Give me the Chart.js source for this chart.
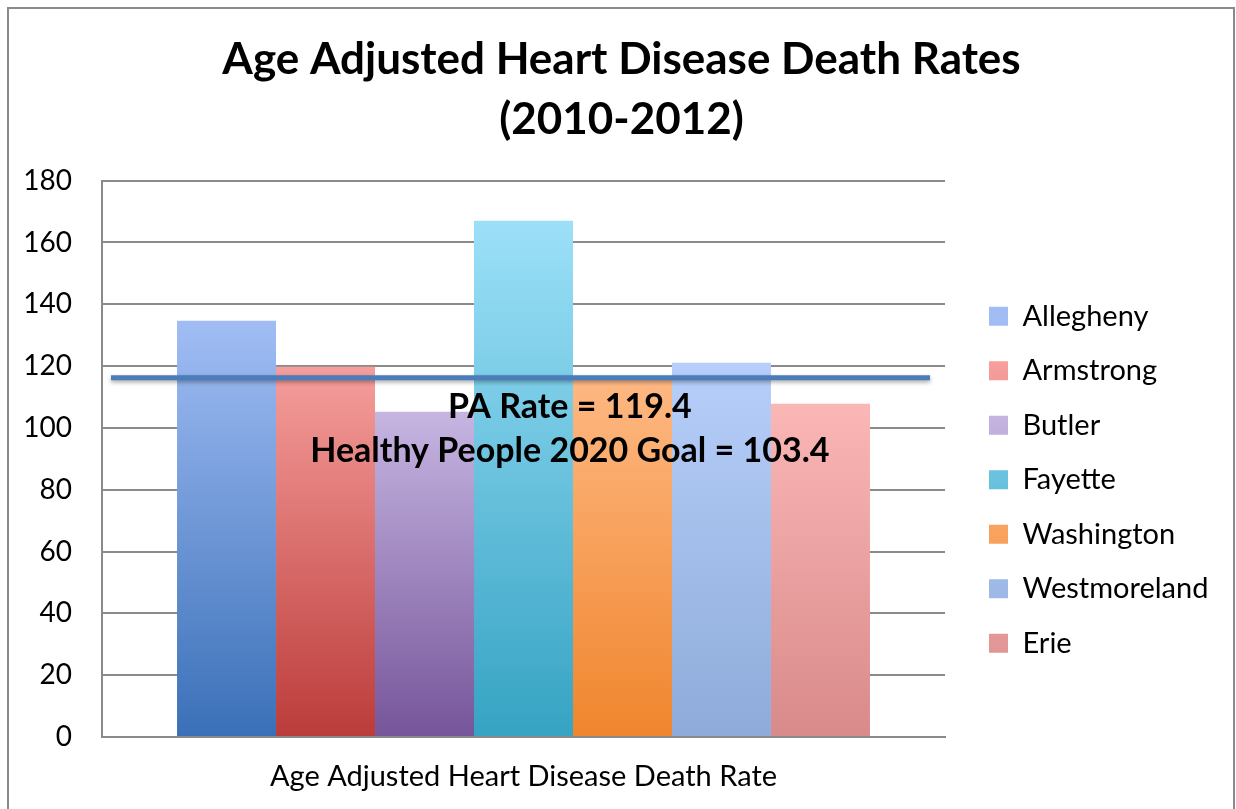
<!DOCTYPE html>
<html>
<head>
  <title>Age Adjusted Heart Disease Death Rates</title>
  <script src="https://cdn.jsdelivr.net/npm/chart.js"></script>
  <style>
    html, body {
      margin: 0;
      padding: 0;
      background: #fff;
      overflow: hidden;
    }
    #wrap {
      position: relative;
      width: 1236px;
      height: 809px;
    }
    #frame {
      position: absolute;
      left: 7px;
      top: 7px;
      width: 1224px;
      height: 820px;
      border: 2px solid #8a8a8a;
      pointer-events: none;
    }
  </style>
</head>
<body>
  <div id="wrap">
    <canvas id="heartChart" width="1236" height="809"></canvas>
    <div id="frame"></div>
  </div>

  <script>
    const counties = ['Allegheny', 'Armstrong', 'Butler', 'Fayette', 'Washington', 'Westmoreland', 'Erie'];
    const rates = [134.7, 119.8, 105.2, 167.0, 116.0, 121.1, 107.8];
    const category = ['Age Adjusted Heart Disease Death Rate'];
    const paLineValue = 116.2;
    const notes = ['PA Rate = 119.4', 'Healthy People 2020 Goal = 103.4'];
    const topColors = ['#a1bdf4', '#f69e9c', '#c6b5e1', '#9ce0f8', '#feb882', '#b7cffa', '#fbb6b6'];
    const bottomColors = ['#3a70b8', '#bb3c3a', '#76559a', '#36a3c3', '#f0852d', '#8eabd9', '#d98a8a'];

    const FONT = 'Lato, "Open Sans", sans-serif';
    const LEGEND_WIDTH = 291;   // room the legend takes on the right
    const LEGEND_SHIFT = 18.5;  // gap between plot and legend boxes

    function barFill(i) {
      return function (c) {
        const chart = c.chart;
        if (!chart.chartArea || !c.parsed) return topColors[i];
        const y = chart.scales.y;
        const top = y.getPixelForValue(c.parsed.y);
        const bottom = y.getPixelForValue(0);
        const g = chart.ctx.createLinearGradient(0, top, 0, bottom);
        g.addColorStop(0, topColors[i]);
        g.addColorStop(1, bottomColors[i]);
        return g;
      };
    }

    // blue PA line and the two notes under it
    const paLine = {
      id: 'paLine',
      afterInit(chart) {
        // widen the legend and push its items right, leaving a gap after the plot
        const lg = chart.legend;
        const fit = lg.fit;
        lg.fit = function () { fit.call(this); this.width = LEGEND_WIDTH; };
        const draw = lg.draw;
        lg.draw = function () {
          this.ctx.save();
          this.ctx.translate(LEGEND_SHIFT, 0);
          draw.call(this);
          this.ctx.restore();
        };
      },
      afterDatasetsDraw(chart) {
        const { ctx, chartArea } = chart;
        const y = chart.scales.y.getPixelForValue(paLineValue);
        ctx.save();
        ctx.shadowColor = 'rgba(0,0,0,0.35)';
        ctx.shadowBlur = 4;
        ctx.shadowOffsetY = 2;
        ctx.strokeStyle = '#4a7dba';
        ctx.lineWidth = 5;
        ctx.beginPath();
        ctx.moveTo(chartArea.left + 9, y);
        ctx.lineTo(chartArea.right - 15, y);
        ctx.stroke();
        ctx.restore();

        ctx.save();
        ctx.font = 'bold 34px ' + FONT;
        ctx.fillStyle = '#000';
        ctx.textAlign = 'center';
        ctx.textBaseline = 'middle';
        const x = chartArea.left + chartArea.width * 0.555;
        ctx.fillText(notes[0], x, chart.scales.y.getPixelForValue(106.8));
        ctx.fillText(notes[1], x, chart.scales.y.getPixelForValue(92.6));
        ctx.restore();
      }
    };

    const ctx = document.getElementById('heartChart').getContext('2d');
    const heartChart = new Chart(ctx, {
      type: 'bar',
      data: {
        labels: category,
        datasets: counties.map((name, i) => ({
          label: name,
          data: [rates[i]],
          backgroundColor: barFill(i),
          borderWidth: 0,
          barPercentage: 1.0,
          categoryPercentage: 0.822
        }))
      },
      options: {
        responsive: false,
        animation: false,
        events: [],
        layout: { padding: { left: 7, right: 0, top: 0, bottom: 0 } },
        scales: {
          x: {
            grid: { display: false, drawTicks: false },
            border: { color: '#8a8a8a', width: 2 },
            ticks: { color: '#000', font: { family: FONT, size: 29 }, padding: 22 },
            afterFit(s) { s.height = 72; }
          },
          y: {
            min: 0,
            max: 180,
            ticks: { stepSize: 20, color: '#000', font: { family: FONT, size: 28 }, padding: 30 },
            grid: { color: '#8a8a8a', lineWidth: 2, drawTicks: false },
            border: { color: '#8a8a8a', width: 2 },
            afterFit(s) { s.width = 95; }
          }
        },
        plugins: {
          title: {
            display: true,
            text: ['Age Adjusted Heart Disease Death Rates', '(2010-2012)'],
            color: '#000',
            font: { family: FONT, size: 44, weight: 'bold', lineHeight: 1.36 },
            padding: { top: 30, bottom: 31 }
          },
          legend: {
            position: 'right',
            fullSize: false,
            title: {
              display: true,
              text: ' ',
              font: { size: 10, lineHeight: 1 },
              padding: { top: 32, bottom: 0 }
            },
            labels: {
              color: '#000',
              boxWidth: 19,
              boxHeight: 19,
              padding: 25.5,
              font: { family: FONT, size: 29 }
            }
          },
          tooltip: { enabled: false }
        }
      },
      plugins: [paLine]
    });
  </script>
</body>
</html>
